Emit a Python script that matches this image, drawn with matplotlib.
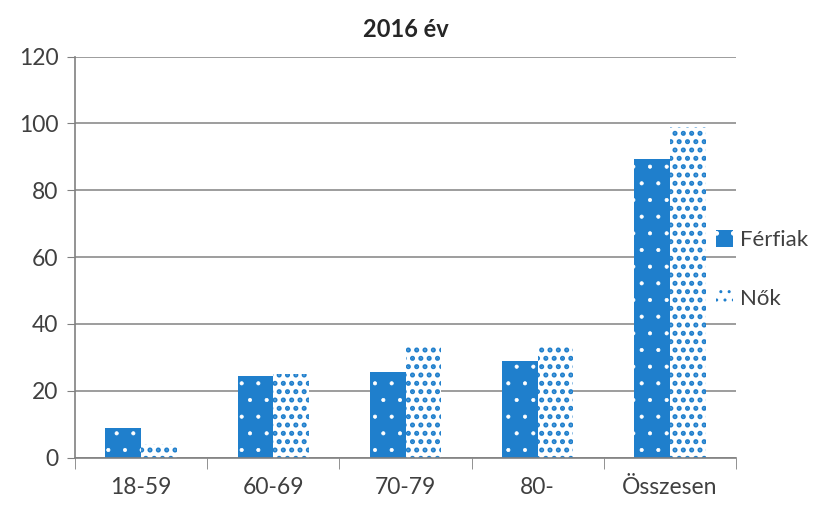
import numpy as np
import matplotlib
matplotlib.use("Agg")
import matplotlib.pyplot as plt

plt.rcParams['font.family'] = ['Lato', 'DejaVu Sans']

categories = ['18-59', '60-69', '70-79', '80-', 'Összesen']
ferfiak = [8.8, 24.5, 25.5, 28.8, 89.5]
nok = [4.2, 25.0, 33.5, 33.3, 99.0]

blue = '#1f7fcc'
txt = '#404040'

fig = plt.figure(figsize=(8.16, 5.29), dpi=100)
ax = fig.add_axes([0.092, 0.135, 0.81, 0.758])

x = np.arange(len(categories))
w = 0.27
with plt.rc_context({'hatch.linewidth': 0.5}):
    b1 = ax.bar(x - w / 2, ferfiak, w, color=blue, edgecolor='white', hatch='.',
                linewidth=0, label='Férfiak', zorder=2)
with plt.rc_context({'hatch.linewidth': 2.4}):
    b2 = ax.bar(x + w / 2, nok, w, color='white', edgecolor=blue, hatch='..',
                linewidth=0, label='Nők', zorder=2)
# hatch width per bar set
for p in b1:
    if hasattr(p, 'set_hatch_linewidth'):
        p.set_hatch_linewidth(0.5)
for p in b2:
    if hasattr(p, 'set_hatch_linewidth'):
        p.set_hatch_linewidth(2.4)

ax.set_ylim(0, 120)
ax.set_yticks(range(0, 121, 20))
ax.set_xlim(-0.5, len(categories) - 0.5)
ax.set_xticks(x)
ax.set_xticklabels(categories)
ax.set_xticks(np.arange(-0.5, len(categories)), minor=True)
ax.tick_params(axis='x', which='major', length=0, pad=14, labelsize=16.5, labelcolor=txt)
ax.tick_params(axis='x', which='minor', length=8, color='#808080')
ax.tick_params(axis='y', length=6, color='#808080', labelsize=16.5, labelcolor=txt, pad=6)

ax.grid(axis='y', color='#8c8c8c', linewidth=1.2, zorder=0)
for s in ['top', 'right']:
    ax.spines[s].set_visible(False)
for s in ['left', 'bottom']:
    ax.spines[s].set_color('#808080')
    ax.spines[s].set_linewidth(1.2)

ax.set_title('2016 év', fontsize=17, fontweight='bold', color='#262626', pad=14)

leg = fig.legend(loc='center left', bbox_to_anchor=(0.878, 0.49), frameon=False,
                 fontsize=16, handlelength=0.75, handleheight=0.75, handletextpad=0.3,
                 labelspacing=1.75, labelcolor=txt, borderaxespad=0, borderpad=0)

fig.savefig('out.png', dpi=100)
